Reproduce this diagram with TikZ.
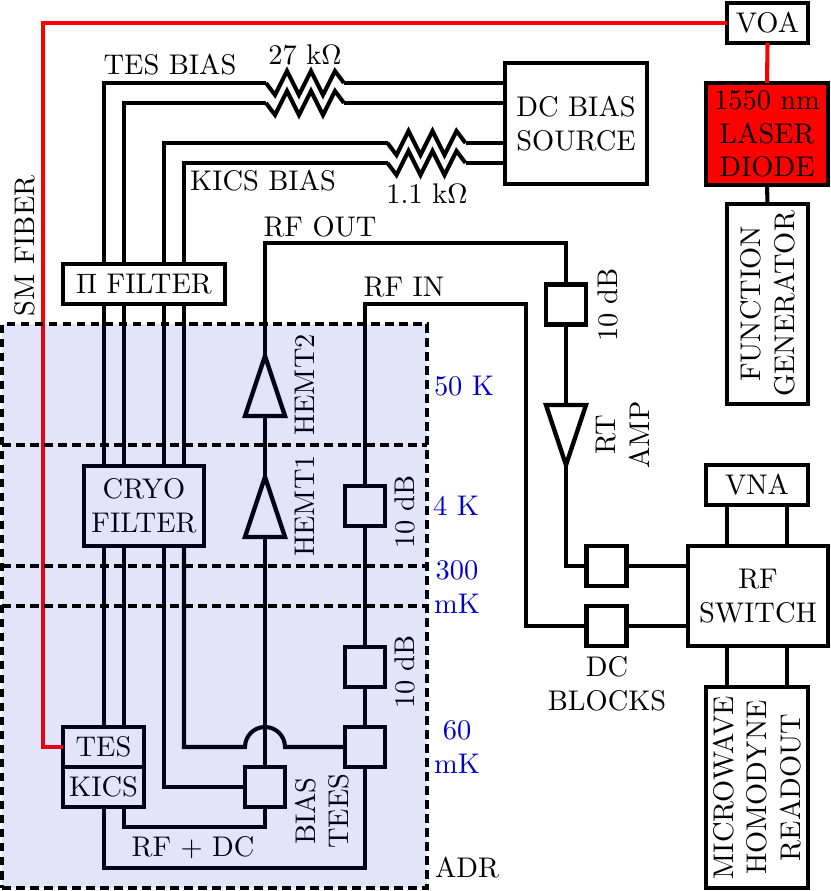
\documentclass[tikz,border=0pt]{standalone}
\usepackage{amsmath}
\usetikzlibrary{positioning}
\newcommand{\unitpx}{0.357pt}
\definecolor{stagefill}{RGB}{30,30,197}
\definecolor{stagetext}{RGB}{0,0,205}
\tikzset{
    every node/.style={font=\fontsize{10.15}{12}\selectfont},
    wire/.style={line width=1.45pt, line join=miter},
    fiber/.style={line width=1.45pt, red},
    blockbox/.style={draw, line width=1.55pt, outer sep=0pt, inner sep=0pt, align=center, fill=white},
    sqbox/.style={blockbox, minimum width=40*\unitpx, minimum height=40*\unitpx, fill=none},
    stagelabel/.style={text=stagetext, align=center},
    stageline/.style={line width=1.25pt, dash pattern=on 3.1pt off 1.9pt},
    resist/.pic={
        \draw[wire] (0,0) -- (9,12) -- (21,-12) -- (33,12) -- (45,-12) -- (57,12) -- (69,-12) -- (78,0);
        \coordinate (-in) at (0,0);
        \coordinate (-out) at (78,0);
    },
    ampup/.pic={
        \draw[wire, line width=1.55pt] (-20,30) -- (0,-30) -- (20,30) -- cycle;
        \coordinate (-tip) at (0,-30);
        \coordinate (-base) at (0,30);
    },
    ampdown/.pic={
        \draw[wire, line width=1.55pt] (-20,-30) -- (0,30) -- (20,-30) -- cycle;
        \coordinate (-tip) at (0,30);
        \coordinate (-base) at (0,-30);
    }
}

\begin{document}
\begin{tikzpicture}[x=\unitpx, y=-\unitpx]
        \useasboundingbox (0,0) rectangle (830,891);

        \node[blockbox, minimum width=81*\unitpx, minimum height=40*\unitpx] (voa) at (767.5,23) {VOA};
        \node[blockbox, fill=red, minimum width=122*\unitpx, minimum height=102*\unitpx] (laser) at (767,134) {1550 nm\\LASER\\DIODE};
        \node[blockbox, rotate=90, minimum width=200*\unitpx, minimum height=81*\unitpx] (fgen) at (767.5,304) {FUNCTION\\GENERATOR};
        \node[blockbox, minimum width=142*\unitpx, minimum height=121*\unitpx] (dcbias) at (576,123.5) {DC BIAS\\SOURCE};
        \node[blockbox, minimum width=162*\unitpx, minimum height=40*\unitpx] (pifilter) at (144,284) {$\Pi$ FILTER};
        \node[blockbox, fill=none, minimum width=120*\unitpx, minimum height=80*\unitpx] (cryo) at (144,506) {CRYO\\FILTER};
        \node[blockbox, fill=none, minimum width=81*\unitpx, minimum height=40*\unitpx] (tes) at (103.5,747) {TES};
        \node[blockbox, fill=none, minimum width=81*\unitpx, minimum height=40*\unitpx] (kics) [below = 0pt of tes] {KICS};

        \node[sqbox] (att_out) at (566,304.5) {};
        \node[sqbox] (att_4k) at (365,506) {};
        \node[sqbox] (att_mk) at (365,667) {};
        \node[sqbox] (tee_a) at (365,747) {};
        \node[sqbox] (tee_b) at (265,787) {};
        \node[sqbox] (block_a) at (606.5,566) {};
        \node[sqbox] (block_b) at (606.5,626) {};

        \node[blockbox, minimum width=140*\unitpx, minimum height=100*\unitpx] (rfswitch) at (758,596) {RF\\SWITCH};
        \node[blockbox, minimum width=102*\unitpx, minimum height=40*\unitpx] (vna) at (757,485) {VNA};
        \node[blockbox, rotate=90, minimum width=201*\unitpx, minimum height=102*\unitpx] (homodyne) at (757,787.5) {MICROWAVE\\HOMODYNE\\READOUT};

        \pic (res_tes_a) at (266,83) {resist};
        \pic (res_tes_b) at (266,103) {resist};
        \pic (res_kics_a) at (387.5,143) {resist};
        \pic (res_kics_b) at (387.5,163) {resist};
        \pic (hemt_1) at (265,507) {ampup};
        \pic (hemt_2) at (265,386) {ampup};
        \pic (rt_amp) at (566,435) {ampdown};

        \coordinate (w_a) at (104,0);
        \coordinate (w_b) at (124,0);
        \coordinate (w_c) at (164,0);
        \coordinate (w_d) at (184,0);
        \coordinate (w_e) at (727,0);
        \coordinate (w_f) at (787,0);
        \coordinate (rf_out) at (265,243);
        \coordinate (rf_in) at (526,304);
        \coordinate (hop) at (245,747);

        %fiber from laser to tes
        \draw[fiber] (laser.north) -- (voa.south);
        \draw[fiber] (voa.west) -- (43,23) |- (tes.west);

        %function generator to laser
        \draw[wire] (laser.south) -- (fgen.east);

        %tes bias
        \draw[wire] (w_a |- pifilter.north) |- (res_tes_a-in);
        \draw[wire] (res_tes_a-out) -- (res_tes_a-out -| dcbias.west);
        \draw[wire] (w_b |- pifilter.north) |- (res_tes_b-in);
        \draw[wire] (res_tes_b-out) -- (res_tes_b-out -| dcbias.west);

        %kics bias
        \draw[wire] (w_c |- pifilter.north) |- (res_kics_a-in);
        \draw[wire] (res_kics_a-out) -- (res_kics_a-out -| dcbias.west);
        \draw[wire] (w_d |- pifilter.north) |- (res_kics_b-in);
        \draw[wire] (res_kics_b-out) -- (res_kics_b-out -| dcbias.west);

        %filter to cryo filter
        \foreach \w in {w_a, w_b, w_c, w_d}
            \draw[wire] (\w |- pifilter.south) -- (\w |- cryo.north);

        %cryo filter to tes and tees
        \draw[wire] (w_a |- cryo.south) -- (w_a |- tes.north);
        \draw[wire] (w_b |- cryo.south) -- (w_b |- tes.north);
        \draw[wire] (w_c |- cryo.south) |- (tee_b.west);
        \draw[wire] (w_d |- cryo.south) |- (hop) arc[start angle=180, end angle=360, radius=20] -- (tee_a.west);

        %rf out
        \draw[wire] (tee_b.north) -- (hemt_1-base);
        \draw[wire] (hemt_1-tip) -- (hemt_2-base);
        \draw[wire] (hemt_2-tip) |- (rf_out) -| (att_out.north);
        \draw[wire] (att_out.south) -- (rt_amp-base);
        \draw[wire] (rt_amp-tip) |- (block_a.west);
        \draw[wire] (block_a.east) -- (block_a.east -| rfswitch.west);

        %rf in
        \draw[wire] (block_b.east) -- (block_b.east -| rfswitch.west);
        \draw[wire] (block_b.west) -| (rf_in) -| (att_4k.north);
        \draw[wire] (att_4k.south) -- (att_mk.north);
        \draw[wire] (att_mk.south) -- (tee_a.north);

        %rf + dc to kics
        \draw[wire] (tee_a.south) |- (365,868) -| (w_a |- kics.south);
        \draw[wire] (tee_b.south) |- (265,827) -| (w_b |- kics.south);

        %switch to vna and readout
        \foreach \w in {w_e, w_f} {
            \draw[wire] (\w |- rfswitch.north) -- (\w |- vna.south);
            \draw[wire] (\w |- rfswitch.south) -- (\w |- homodyne.east);
        }

        %labels
        \node (lab_fiber) [rotate=90] at (25,246) {SM FIBER};
        \node (lab_tes) at (170,65) {TES BIAS};
        \node (lab_kics) at (263,181) {KICS BIAS};
        \node (lab_r1) at (305,55) {27 k$\Omega$};
        \node (lab_r2) at (427,194) {1.1 k$\Omega$};
        \node (lab_out) at (320,227) {RF OUT};
        \node (lab_in) at (404,287) {RF IN};
        \node (lab_h2) [rotate=90] at (305,385) {HEMT2};
        \node (lab_h1) [rotate=90] at (305,506) {HEMT1};
        \node (lab_att_a) [rotate=90] at (608,305) {10 dB};
        \node (lab_att_b) [rotate=90] at (405,512) {10 dB};
        \node (lab_att_c) [rotate=90] at (405,672) {10 dB};
        \node (lab_rt) [rotate=90, align=center] at (623,435) {RT\\AMP};
        \node (lab_tees) [rotate=90, align=center] at (322,811) {BIAS\\TEES};
        \node (lab_dc) at (193,848) {RF + DC};
        \node (lab_blocks) [align=center] at (607,684) {DC\\BLOCKS};
        \node (lab_adr) at (467,868) {ADR};

        \node[stagelabel] (lab_50) at (464,386) {50 K};
        \node[stagelabel] (lab_4) at (456,506) {4 K};
        \node[stagelabel] (lab_300) at (457,587) {300\\mK};
        \node[stagelabel] (lab_60) at (457,747) {60\\mK};

        %cold stages
        \node[minimum width=425*\unitpx, minimum height=564*\unitpx, outer sep=0pt, fill=stagefill, fill opacity=0.12, draw, stageline] (adr) at (214.5,606) {};
        \foreach \y in {445, 566, 606} {
            \coordinate (s) at (0,\y);
            \draw[stageline] (s -| adr.west) -- (s -| adr.east);
        }
    \end{tikzpicture}
\end{document}
